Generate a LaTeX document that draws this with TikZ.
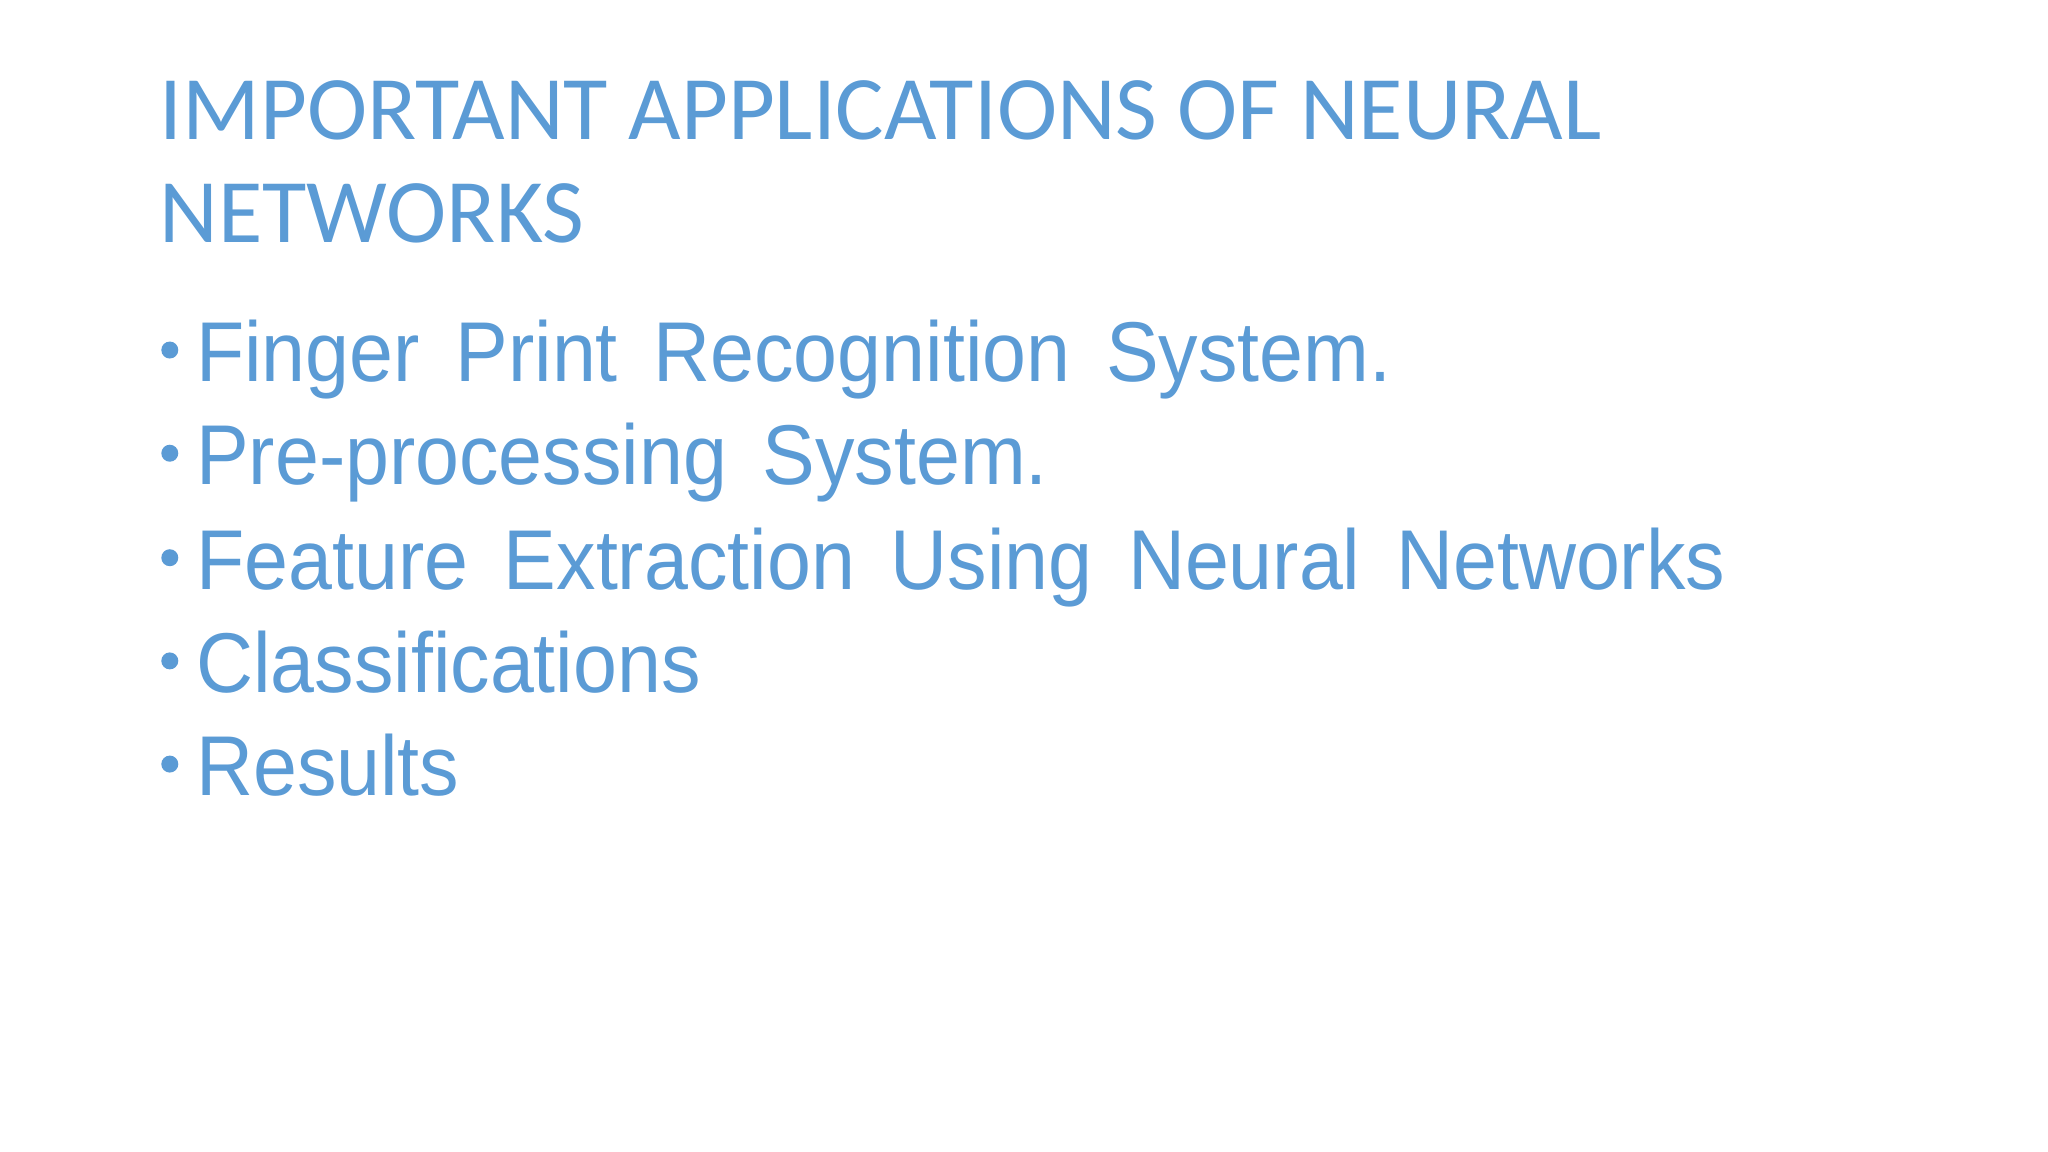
\documentclass[tikz,border=0pt]{standalone}
\usepackage{fontspec}
\setmainfont[FakeStretch=0.93]{Liberation Sans}
\newfontfamily\titlefont{Carlito}
\definecolor{blu}{HTML}{5B9BD5}
\newcommand\gp{\hspace{0.42em}}
\begin{document}
\begin{tikzpicture}[x=1pt,y=1pt,
  ttl/.style={anchor=base west,inner sep=0pt,text=blu,font=\titlefont\fontsize{69.5}{70}\selectfont},
  itm/.style={anchor=base west,inner sep=0pt,text=blu,font=\fontsize{65}{65}\selectfont},
  dot/.style={circle,fill=blu,inner sep=0pt,minimum size=13pt}]
\useasboundingbox (0,0) rectangle (1568,-882);
\node[ttl] (t1) at (122,-107) {IMPORTANT APPLICATIONS OF NEURAL};
\node[ttl] (t2) at (122,-186) {NETWORKS};
\foreach \y/\t/\n in {292/{Finger\gp Print\gp Recognition\gp System.}/a,
  371/{Pre-processing\gp System.}/b,
  451/{Feature\gp Extraction\gp Using\gp Neural\gp Networks}/c,
  530/{Classifications}/d,
  609/{Results}/e}{
  \node[dot] (d\n) at (130,-\y+24) {};
  \node[itm] (i\n) at (150,-\y) {\t};
}
\end{tikzpicture}
\end{document}
